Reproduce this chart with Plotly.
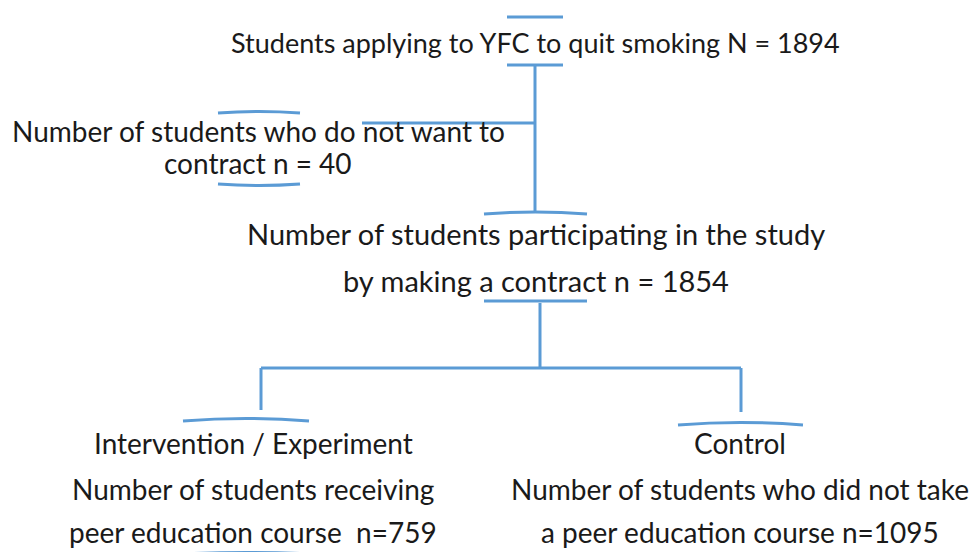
import plotly.graph_objects as go

# ---- data (flowchart content) ----
total_applied = 1894
declined = 40
participating = 1854
intervention_n = 759
control_n = 1095

node_lines = [
    [f"Students applying to YFC to quit smoking N = {total_applied}"],
    ["Number of students who do not want to", f"contract n = {declined}"],
    ["Number of students participating in the study", f"by making a contract n = {participating}"],
    ["Intervention / Experiment", "Number of students receiving",
     f"peer education course  n={intervention_n}"],
    ["Control", "Number of students who did not take",
     f"a peer education course n={control_n}"],
]

# ---- layout (positions in pixel space) ----
W, H = 969, 552
node_x = [535, 258, 536, 253, 740]
node_line_y = [[42], [131, 163], [233, 280], [443, 489, 532], [443, 489, 532]]
node_font = [27, 28, 29, 28, 28]

BLUE = "#5B9BD5"
TXT = "#1a1a1a"
FONT = "Lato"

fig = go.Figure()
fig.add_trace(go.Scatter(x=[0, W], y=[0, H], mode="markers",
                         marker=dict(opacity=0), hoverinfo="skip", showlegend=False))

shapes = []
def seg(x0, y0, x1, y1, w=3):
    shapes.append(dict(type="line", x0=x0, y0=y0, x1=x1, y1=y1, xref="x", yref="y",
                       line=dict(color=BLUE, width=w)))

def arc(x0, x1, y, bulge, w=3):
    cx = (x0 + x1) / 2
    shapes.append(dict(type="path", xref="x", yref="y",
                       path=f"M {x0},{y} Q {cx},{y - bulge} {x1},{y}",
                       line=dict(color=BLUE, width=w)))

# top node brackets
seg(507, 17, 563, 17)
seg(507, 65, 563, 65)
# main vertical and side branch
seg(535, 65, 535, 213)
seg(362, 123, 535, 123)
# left node brackets
arc(218, 300, 113, 3)
arc(218, 300, 184, -3)
# middle node brackets
arc(484, 587, 214, 4)
seg(484, 301, 587, 301)
# split
seg(540, 303, 540, 368)
seg(261, 368, 741, 368)
seg(261, 368, 261, 410)
seg(741, 368, 741, 412)
# bottom node brackets
arc(183, 309, 421, 5)
arc(678, 803, 425, 5)
arc(182, 312, 554, 3)
arc(680, 803, 555, 3)

for x, lines, ys, fs in zip(node_x, node_lines, node_line_y, node_font):
    for lab, y in zip(lines, ys):
        fig.add_annotation(x=x, y=y, xref="x", yref="y", text=lab, showarrow=False,
                           align="center", xanchor="center", yanchor="middle",
                           font=dict(family=FONT, size=fs, color=TXT))

fig.update_layout(
    width=W, height=H, margin=dict(l=0, r=0, t=0, b=0),
    paper_bgcolor="white", plot_bgcolor="white",
    xaxis=dict(range=[0, W], visible=False, fixedrange=True),
    yaxis=dict(range=[H, 0], visible=False, fixedrange=True),
    shapes=shapes, showlegend=False,
)
fig.write_html("out.html", config={"displayModeBar": False},
               post_script="document.body.style.margin='0';document.body.style.overflow='hidden';")
